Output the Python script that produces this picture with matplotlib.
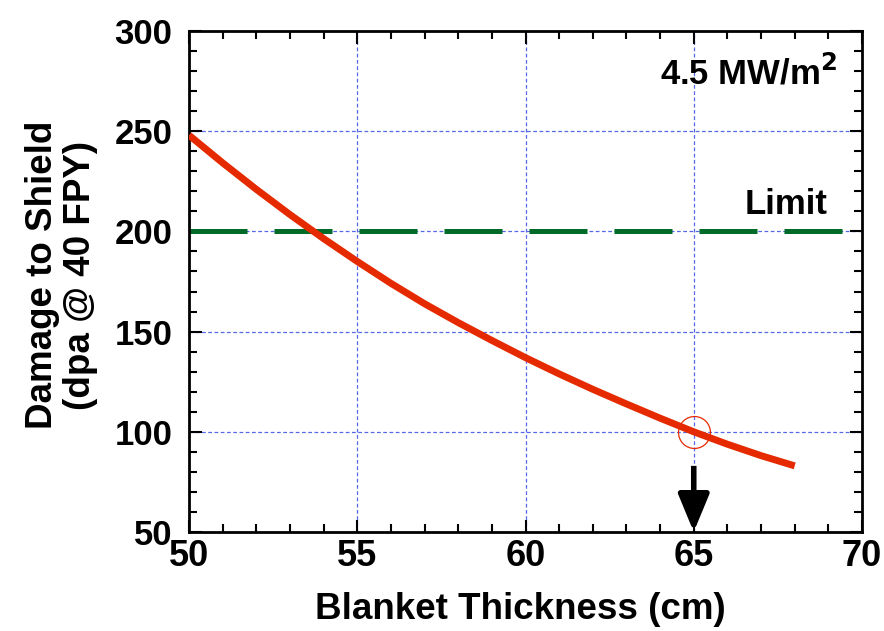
#!/usr/bin/env python3
"""Shield damage vs blanket thickness at 4.5 MW/m2."""

import matplotlib

matplotlib.use("Agg")
import matplotlib.pyplot as plt
from matplotlib.ticker import MultipleLocator

# blanket thickness (cm) and shield damage (dpa @ 40 FPY)
thickness = [50, 51, 52, 53, 54, 55, 56, 57, 58, 59, 60,
             61, 62, 63, 64, 65, 66, 67, 68]
damage = [248.0, 234.2, 221.0, 208.4, 196.4, 185.0, 174.1, 163.9, 154.5, 145.6,
          137.0, 128.9, 121.2, 113.9, 106.8, 100.0, 93.8, 88.1, 83.0]
limit_value = 200
design_point = (65, 100)
arrow_top = 83

FONT = ["Liberation Sans", "Arial", "DejaVu Sans"]
RED = "#e62a00"
GREEN = "#006b28"
GRID_BLUE = "#5468e8"

fig = plt.figure(figsize=(8.84, 6.31), dpi=100)
ax = fig.add_axes([189 / 884, 1 - 532 / 631, (862 - 189) / 884, (532 - 31) / 631])

ax.set_xlim(50, 70)
ax.set_ylim(50, 300)

for y in [100, 150, 200, 250]:
    ax.axhline(y, color=GRID_BLUE, linestyle=(0, (3, 2)), linewidth=0.9, zorder=1)
for x in [55, 60, 65]:
    ax.axvline(x, color=GRID_BLUE, linestyle=(0, (3, 2)), linewidth=0.9, zorder=1)

ax.plot([50, 70], [limit_value, limit_value], color=GREEN, linewidth=3.6,
        linestyle=(0, (11.6, 5.4)), zorder=2)
ax.plot(thickness, damage, color=RED, linewidth=5.0, zorder=3,
        solid_capstyle="butt", solid_joinstyle="round")
ax.plot(*design_point, marker="o", markersize=23, markerfacecolor="none",
        markeredgecolor=RED, markeredgewidth=0.9, zorder=4)

ax.annotate("", xy=(65, 50), xytext=(65, arrow_top),
            arrowprops=dict(arrowstyle="-|>,head_width=0.95,head_length=2.3",
                            color="black", linewidth=4.0, shrinkA=0, shrinkB=0,
                            capstyle="butt"),
            zorder=5)

ax.text(0.964, 0.916, r"4.5 MW/m$^\mathbf{2}$", transform=ax.transAxes,
        ha="right", va="center", fontsize=25, fontweight="bold", family=FONT)
ax.text(0.949, 0.654, "Limit", transform=ax.transAxes, ha="right", va="center",
        fontsize=25, fontweight="bold", family=FONT)

ax.xaxis.set_major_locator(MultipleLocator(5))
ax.xaxis.set_minor_locator(MultipleLocator(1))
ax.yaxis.set_major_locator(MultipleLocator(50))
ax.yaxis.set_minor_locator(MultipleLocator(10))
ax.tick_params(which="both", direction="in", top=True, right=True, width=1.5,
               color="black")
ax.tick_params(which="major", length=9)
ax.tick_params(which="minor", length=5.5)
ax.tick_params(axis="x", which="major", pad=5)
ax.tick_params(axis="y", which="major", pad=12)
for lab in ax.get_xticklabels():
    lab.set_fontfamily(FONT)
    lab.set_fontweight("bold")
    lab.set_fontsize(26)
for lab in ax.get_yticklabels():
    lab.set_fontfamily(FONT)
    lab.set_fontweight("bold")
    lab.set_fontsize(25)
for spine in ax.spines.values():
    spine.set_linewidth(2)

ax.set_xlabel("Blanket Thickness (cm)", family=FONT, fontweight="bold",
              fontsize=26.5, va="center")
ax.xaxis.set_label_coords(0.493, -0.154)
ax.set_ylabel("Damage to Shield\n(dpa @ 40 FPY)", family=FONT, fontweight="bold",
              fontsize=26.5, linespacing=1.12, va="center")
ax.yaxis.set_label_coords(-0.189, 0.513)

fig.savefig("out.png", dpi=100)
